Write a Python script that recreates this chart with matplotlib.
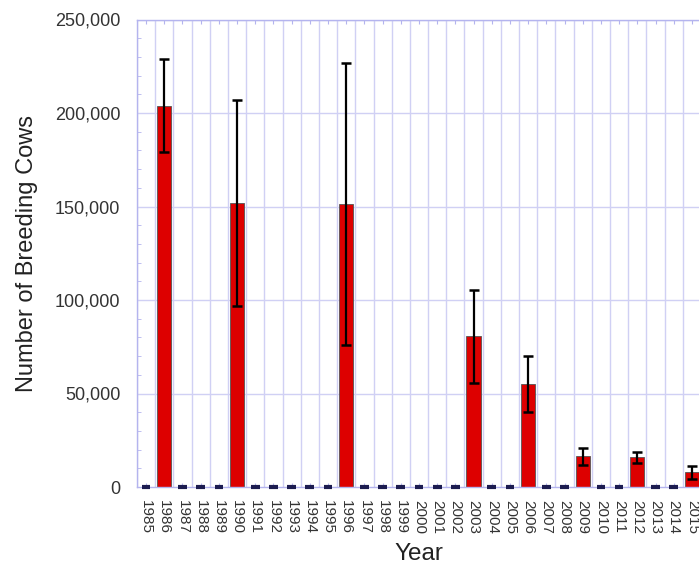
"""
Breeding cows per survey year, bar chart with error bars
"""

import numpy as np
import matplotlib.pyplot as plt
from matplotlib.ticker import FuncFormatter, MultipleLocator

years = list(range(1985, 2016))
cows = {1986: 204000, 1990: 152000, 1996: 151500, 2003: 80500,
        2006: 55300, 2009: 16500, 2012: 15800, 2015: 7900}
errs = {1986: 25000, 1990: 55200, 1996: 75500, 2003: 25100,
        2006: 15000, 2009: 4600, 2012: 2900, 2015: 3500}

values = np.array([cows.get(y, 0) for y in years])
errors = np.array([errs.get(y, 0) for y in years])

plt.rcParams['font.family'] = ['Liberation Sans', 'DejaVu Sans']

fig = plt.figure(figsize=(6.99, 5.67), dpi=100)
ax = fig.add_axes([137/699, 1 - 487/567, 564/699, 467.5/567])

x = np.arange(len(years))
grid_col = '#d0d0f4'
spine_col = '#b4b4ee'

# vertical grid lines sit between categories
for b in np.arange(-0.5, len(years) + 0.5, 1):
    ax.axvline(b, color=grid_col, lw=1.0, zorder=0)
for yv in range(50000, 250001, 50000):
    ax.axhline(yv, color=grid_col, lw=1.0, zorder=0)

has = values > 0
ax.bar(x[has], values[has], width=0.78, color='#dd0000', edgecolor='#555555',
       linewidth=0.6, zorder=2)
# empty years show as a short dark dash on the baseline
ax.hlines(values[~has], x[~has] - 0.24, x[~has] + 0.24, color='#1c1c50',
          lw=3, zorder=4, clip_on=False)

ax.errorbar(x[has], values[has], yerr=errors[has], fmt='none',
            ecolor='black', elinewidth=1.6, capsize=3.8, capthick=1.8, zorder=3)

ax.set_xlim(-0.5, len(years) - 0.5)
ax.set_ylim(0, 250000)
ax.yaxis.set_major_locator(MultipleLocator(50000))
ax.yaxis.set_minor_locator(MultipleLocator(10000))
ax.yaxis.set_major_formatter(FuncFormatter(lambda v, p: f"{int(v):,}"))
ax.set_xticks(x)
ax.set_xticklabels([str(y) for y in years], rotation=270, fontsize=11, color='#333333')

ax.tick_params(axis='y', which='major', length=0, pad=12, labelsize=13, labelcolor='#333333')
ax.tick_params(axis='y', which='minor', direction='in', length=3, color=spine_col)
ax.tick_params(axis='x', direction='in', length=3, color=spine_col, top=True, pad=9)

for s in ax.spines.values():
    s.set_color(spine_col)
    s.set_linewidth(1.0)

ax.set_xlabel("Year", fontsize=17.5, color='#222222', labelpad=7)
ax.set_ylabel("Number of Breeding Cows", fontsize=17, color='#222222', labelpad=12)

plt.savefig("out.png", dpi=100)
